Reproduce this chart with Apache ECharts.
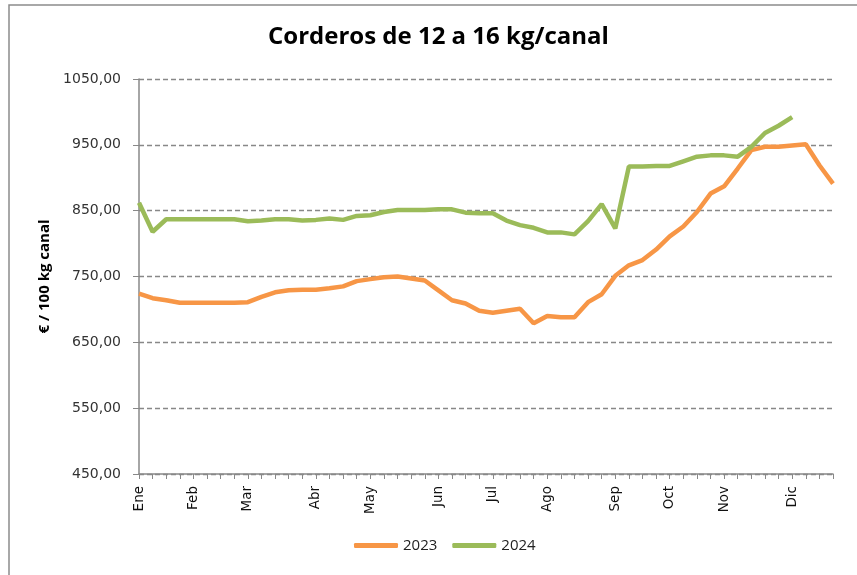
<!DOCTYPE html>
<html lang="es">
<head>
<meta charset="UTF-8">
<title>Corderos de 12 a 16 kg/canal</title>
<script src="https://cdn.jsdelivr.net/npm/echarts@6/dist/echarts.min.js"></script>
<style>
  html, body { margin: 0; padding: 0; background: #fff; }
  #chart { width: 857px; height: 575px; }
</style>
</head>
<body>
<div id="chart"></div>
<script>
// 52 semanas; solo algunas llevan etiqueta de mes
const monthLabels = { 0: 'Ene', 4: 'Feb', 8: 'Mar', 13: 'Abr', 17: 'May', 22: 'Jun', 26: 'Jul', 30: 'Ago', 35: 'Sep', 39: 'Oct', 43: 'Nov', 48: 'Dic' };
const weeks = [];
for (let i = 0; i < 52; i++) weeks.push(monthLabels[i] || '');

const prices2023 = [
  724, 717, 714, 710, 710, 710, 710, 710, 711, 719,
  726, 729, 730, 730, 732, 735, 743, 746, 749, 750,
  747, 744, 729, 714, 709, 698, 695, 698, 701, 679,
  690, 688, 688, 711, 723, 751, 767, 775, 791, 811,
  826, 848, 876, 887, 914, 942, 947, 947, 949, 951,
  919, 891
];

const prices2024 = [
  862, 818, 837, 837, 837, 837, 837, 837, 834, 835,
  837, 837, 835, 836, 838, 836, 842, 843, 848, 851,
  851, 851, 852, 852, 847, 846, 846, 835, 828, 824,
  817, 817, 814, 834, 860, 823, 917, 917, 918, 918,
  925, 932, 934, 934, 932, 947, 968, 979, 992
];

const chart = echarts.init(document.getElementById('chart'));
chart.setOption({
  animation: false,
  textStyle: { fontFamily: '"Open Sans", sans-serif' },
  graphic: [{
    type: 'rect',
    shape: { x: 9, y: 5, width: 900, height: 620 },
    style: { fill: 'none', stroke: '#8c8c8c', lineWidth: 1.5 }
  }],
  title: {
    text: 'Corderos de 12 a 16 kg/canal',
    left: 263,
    top: 20,
    textStyle: { fontSize: 24, fontWeight: 'bold', color: '#000', fontFamily: '"Open Sans", sans-serif' }
  },
  legend: {
    bottom: 17,
    left: 349,
    icon: 'roundRect',
    itemWidth: 44,
    itemHeight: 5,
    itemGap: 15,
    textStyle: { fontSize: 15, color: '#222' },
    data: ['2023', '2024']
  },
  grid: { left: 139, right: 24, top: 79, bottom: 101, containLabel: false },
  xAxis: {
    type: 'category',
    data: weeks,
    boundaryGap: false,
    axisLine: { lineStyle: { color: '#888', width: 1.5 } },
    axisTick: { show: true, interval: 0, length: 5, lineStyle: { color: '#888' } },
    axisLabel: {
      interval: 0, rotate: 90, fontSize: 13.5, color: '#111', margin: 12,
      fontFamily: '"DejaVu Sans", sans-serif'
    },
    splitLine: { show: false }
  },
  yAxis: {
    type: 'value',
    min: 450,
    max: 1050,
    interval: 100,
    name: '€ / 100 kg canal',
    nameLocation: 'middle',
    nameGap: 80,
    nameRotate: 90,
    nameTextStyle: { fontSize: 15, fontWeight: 'bold', color: '#000' },
    axisLine: { show: true, lineStyle: { color: '#888', width: 1.5 } },
    axisTick: { show: true, length: 6, lineStyle: { color: '#888' } },
    axisLabel: {
      fontSize: 14,
      color: '#333',
      margin: 18,
      fontFamily: '"DejaVu Sans", sans-serif',
      formatter: v => v.toFixed(2).replace('.', ',')
    },
    splitLine: { lineStyle: { type: [5, 3], color: '#888', width: 1.3 } }
  },
  series: [
    {
      name: '2023',
      type: 'line',
      data: prices2023,
      symbol: 'none',
      lineStyle: { color: '#F79646', width: 4.5 },
      itemStyle: { color: '#F79646' }
    },
    {
      name: '2024',
      type: 'line',
      data: prices2024,
      symbol: 'none',
      lineStyle: { color: '#9BBB59', width: 4.5 },
      itemStyle: { color: '#9BBB59' }
    }
  ]
});
</script>
</body>
</html>
